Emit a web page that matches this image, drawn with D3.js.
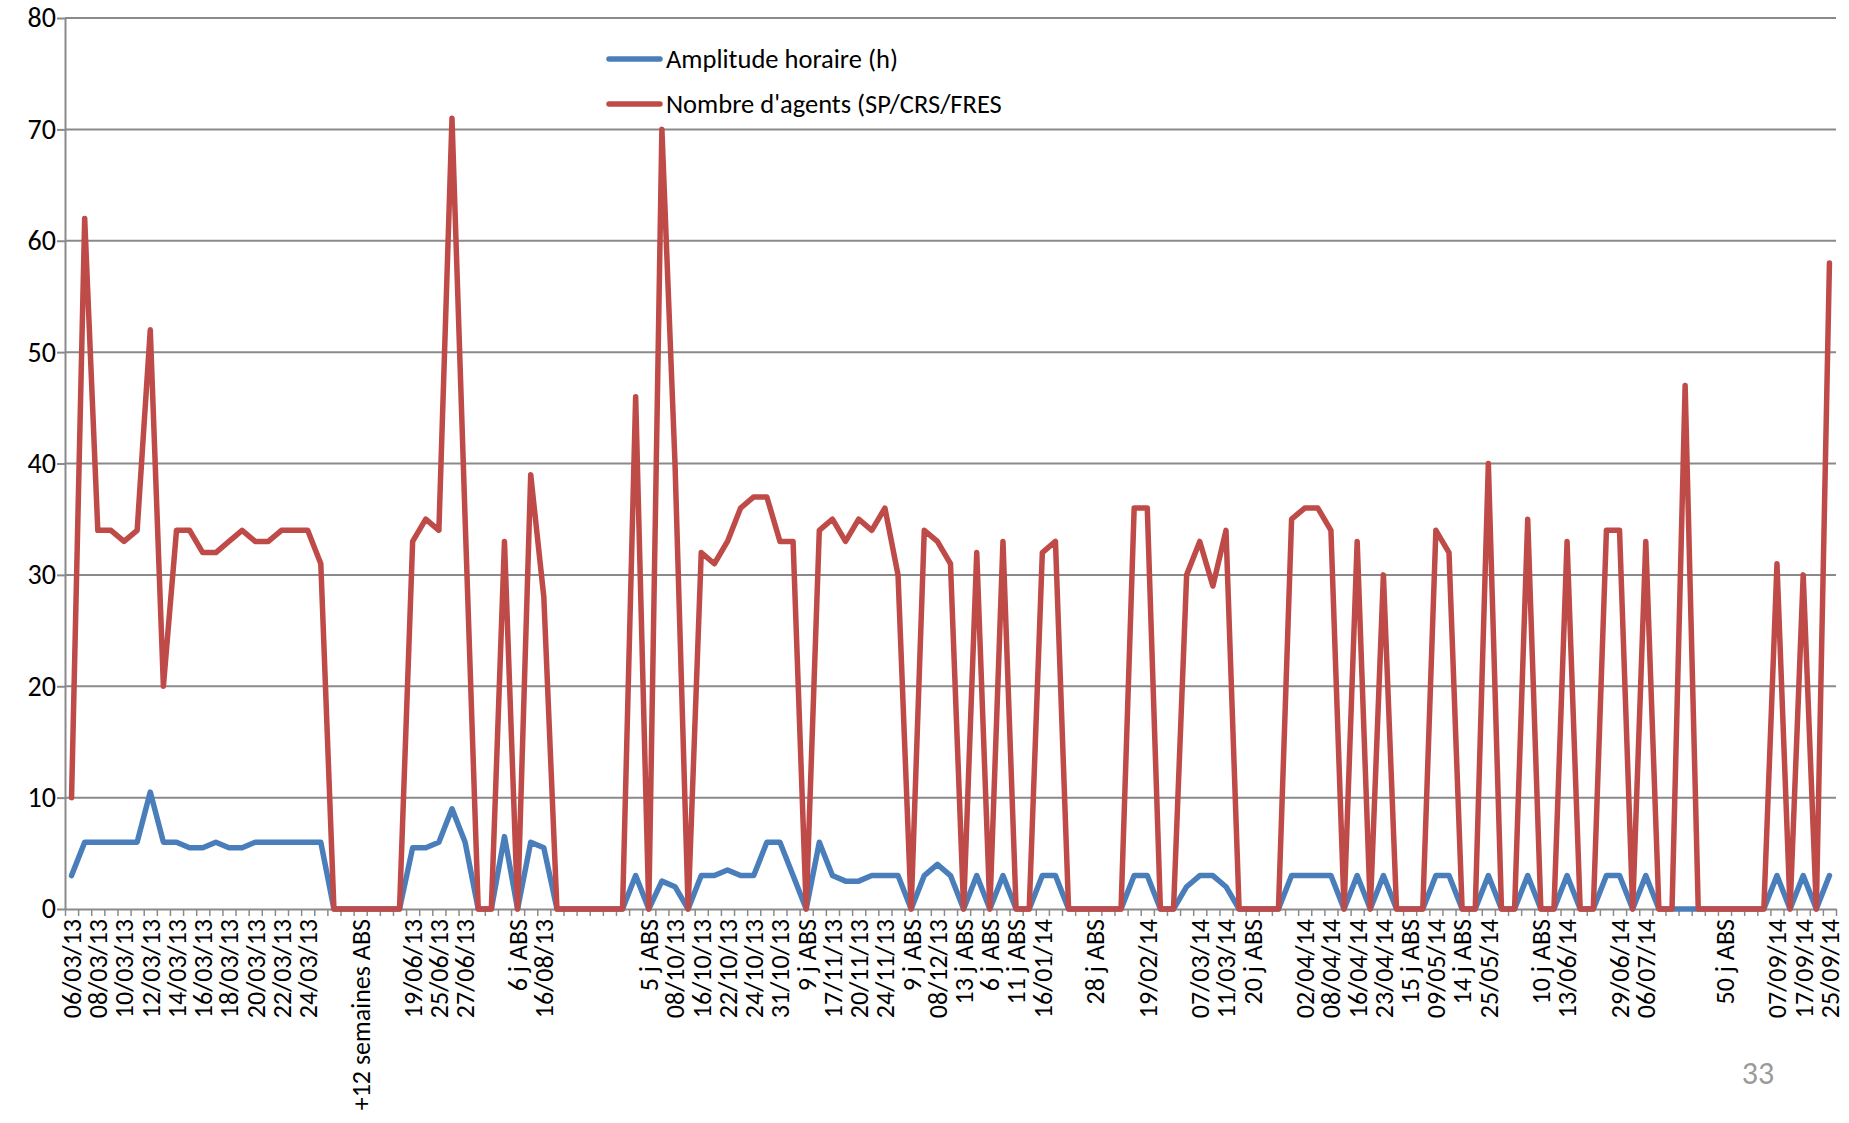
<!DOCTYPE html>
<html><head><meta charset="utf-8">
<script src="https://cdn.jsdelivr.net/npm/d3@7"></script>
<style>
body{margin:0;background:#fff;}
svg text{font-family:Calibri,Carlito,Lato,"Noto Sans",sans-serif;fill:#000;}
</style>
</head><body>
<svg id="chart" width="1849" height="1123"></svg>
<script>
// ---- data ----
const categories = [
"06/03/13","","08/03/13","","10/03/13","","12/03/13","","14/03/13","",
"16/03/13","","18/03/13","","20/03/13","","22/03/13","","24/03/13","",
"","","+12 semaines ABS","","","","19/06/13","","25/06/13","",
"27/06/13","","","","6 j ABS","","16/08/13","","","",
"","","","","5 j ABS","","08/10/13","","16/10/13","",
"22/10/13","","24/10/13","","31/10/13","","9 j ABS","","17/11/13","",
"20/11/13","","24/11/13","","9 j ABS","","08/12/13","","13 j ABS","",
"6 j ABS","","11 j ABS","","16/01/14","","","","28 j ABS","",
"","","19/02/14","","","","07/03/14","","11/03/14","",
"20 j ABS","","","","02/04/14","","08/04/14","","16/04/14","",
"23/04/14","","15 j ABS","","09/05/14","","14 j ABS","","25/05/14","",
"","","10 j ABS","","13/06/14","","","","29/06/14","",
"06/07/14","","","","","","50 j ABS","","","",
"07/09/14","","17/09/14","","25/09/14"
];
const amplitude = [
3,6,6,6,6,6,10.5,6,6,5.5, 5.5,6,5.5,5.5,6,6,6,6,6,6,
0,0,0,0,0,0,5.5,5.5,6,9, 6,0,0,6.5,0,6,5.5,0,0,0,
0,0,0,3,0,2.5,2,0,3,3, 3.5,3,3,6,6,3,0,6,3,2.5,
2.5,3,3,3,0,3,4,3,0,3, 0,3,0,0,3,3,0,0,0,0,
0,3,3,0,0,2,3,3,2,0, 0,0,0,3,3,3,3,0,3,0,
3,0,0,0,3,3,0,0,3,0, 0,3,0,0,3,0,0,3,3,0,
3,0,0,0,0,0,0,0,0,0, 3,0,3,0,3
];
const agents = [
10,62,34,34,33,34,52,20,34,34, 32,32,33,34,33,33,34,34,34,31,
0,0,0,0,0,0,33,35,34,71, 35,0,0,33,0,39,28,0,0,0,
0,0,0,46,0,70,40,0,32,31, 33,36,37,37,33,33,0,34,35,33,
35,34,36,30,0,34,33,31,0,32, 0,33,0,0,32,33,0,0,0,0,
0,36,36,0,0,30,33,29,34,0, 0,0,0,35,36,36,34,0,33,0,
30,0,0,0,34,32,0,0,40,0, 0,35,0,0,33,0,0,34,34,0,
33,0,0,47,0,0,0,0,0,0, 31,0,30,0,58
];
const yTicks = [0,10,20,30,40,50,60,70,80];
const seriesNames = ["Amplitude horaire (h)", "Nombre d'agents (SP/CRS/FRES"];
const seriesColors = ["#4a7ebb", "#be4b48"];
const pageNumber = "33";

// ---- layout ----
const L = 65, R = 1836, T = 18, B = 909;
const svg = d3.select("#chart");
const idx = d3.range(categories.length);

const x = d3.scaleBand().domain(idx).range([L, R]).padding(0);
const xb = d3.scaleLinear().domain([0, categories.length]).range([L, R]);
const y = d3.scaleLinear().domain([0, 80]).range([B, T]);
const cx = i => x(i) + x.bandwidth() / 2;

// gridlines
svg.append("g").selectAll("line").data(yTicks.filter(v => v > 0)).join("line")
  .attr("x1", L).attr("x2", R).attr("y1", d => y(d)).attr("y2", d => y(d))
  .attr("stroke", "#8a8a8a").attr("stroke-width", 2);

// y axis
const yAxis = svg.append("g").attr("transform", `translate(${L},0)`)
  .call(d3.axisLeft(y).tickValues(yTicks).tickSize(8).tickPadding(1).tickSizeOuter(0));
yAxis.select(".domain").attr("stroke", "#8a8a8a").attr("stroke-width", 2);
yAxis.selectAll(".tick line").attr("stroke", "#8a8a8a").attr("stroke-width", 2);
yAxis.selectAll(".tick text").style("font-size", "28px").attr("fill", "#000");

// x axis tick marks (between categories)
const xTicks = svg.append("g").attr("transform", `translate(0,${B})`)
  .call(d3.axisBottom(xb).tickValues(d3.range(categories.length + 1)).tickSize(7).tickFormat("").tickSizeOuter(0));
xTicks.select(".domain").attr("stroke", "#8a8a8a").attr("stroke-width", 2);
xTicks.selectAll(".tick line").attr("stroke", "#8a8a8a").attr("stroke-width", 1.5);

// x labels
const xLab = svg.append("g").attr("transform", `translate(0,${B})`)
  .call(d3.axisBottom(x).tickSize(0).tickFormat(i => categories[i]));
xLab.select(".domain").remove();
xLab.selectAll(".tick text")
  .attr("transform", "rotate(-90)")
  .attr("x", -10).attr("y", 0).attr("dy", "0.36em")
  .style("text-anchor", "end").style("font-size", "26px").attr("fill", "#000");

// lines
const line = d3.line().x((d, i) => cx(i)).y(d => y(d));
[amplitude, agents].forEach((s, k) => {
  svg.append("path").datum(s)
    .attr("d", line)
    .attr("fill", "none").attr("stroke", seriesColors[k])
    .attr("stroke-width", 5.5).attr("stroke-linejoin", "round").attr("stroke-linecap", "round");
});

// legend
const leg = svg.append("g");
seriesNames.forEach((n, k) => {
  const ly = 59 + k * 45;
  leg.append("line").attr("x1", 609).attr("x2", 660).attr("y1", ly).attr("y2", ly)
    .attr("stroke", seriesColors[k]).attr("stroke-width", 5.5).attr("stroke-linecap", "round");
  leg.append("text").attr("x", 666).attr("y", ly).attr("dy", "0.35em")
    .style("font-size", "26.5px").text(n);
});

// page number
svg.append("text").attr("x", 1758).attr("y", 1084).attr("text-anchor", "middle")
  .style("font-size", "32px").style("fill", "#9a9a9a").text(pageNumber);
</script>
</body></html>
